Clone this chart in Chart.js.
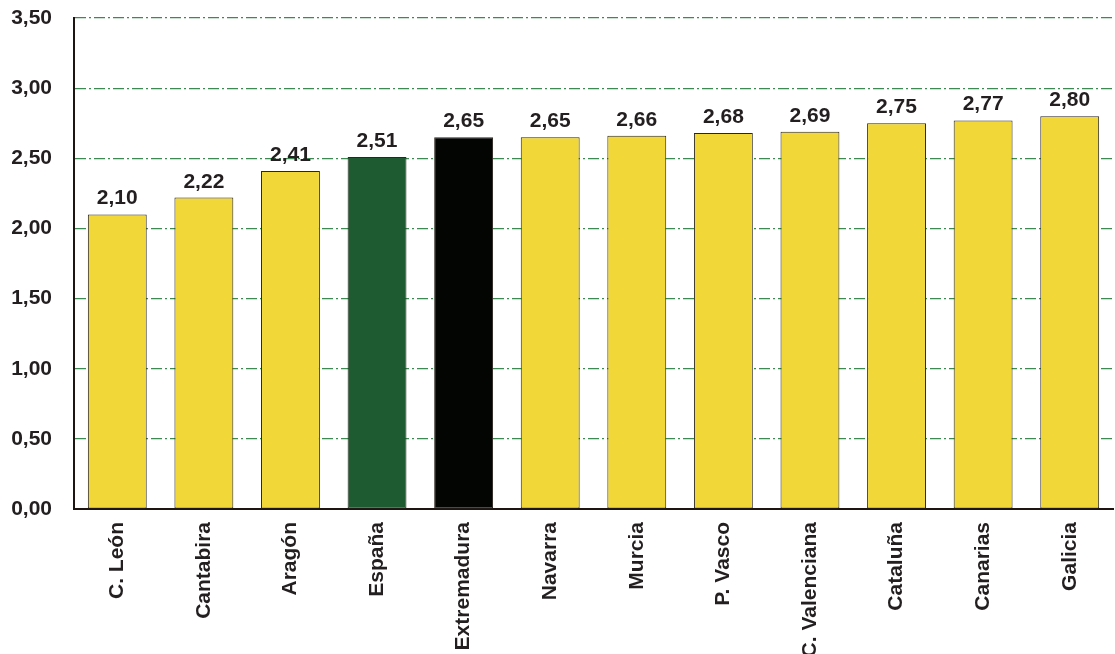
<!DOCTYPE html>
<html>
<head>
<meta charset="utf-8">
<script src="https://cdn.jsdelivr.net/npm/chart.js@4.4.1/dist/chart.umd.min.js"></script>
<style>
  html, body { margin: 0; padding: 0; background: #fff; }
  #chart { display: block; }
</style>
</head>
<body>
<canvas id="chart" width="1115" height="654"></canvas>
<script>
const regions = ["C. León", "Cantabira", "Aragón", "España", "Extremadura", "Navarra",
  "Murcia", "P. Vasco", "C. Valenciana", "Cataluña", "Canarias", "Galicia"];
const values = [2.10, 2.22, 2.41, 2.51, 2.65, 2.65, 2.66, 2.68, 2.69, 2.75, 2.77, 2.80];
const yTicks = [0, 0.5, 1, 1.5, 2, 2.5, 3, 3.5];

const YELLOW = "#f1d838";
const textColor = "#231f20";
const FONT = "'Liberation Sans', Arial, sans-serif";
const fmt = v => v.toFixed(2).replace(".", ",");

// España and Extremadura get their own colours, the rest are yellow
const barColors = regions.map(r => r === "España" ? "#1f5b31" : r === "Extremadura" ? "#030503" : YELLOW);

const valueLabels = {
  id: "valueLabels",
  afterDatasetsDraw(chart) {
    const ctx = chart.ctx;
    const meta = chart.getDatasetMeta(0);
    ctx.save();
    ctx.font = "bold 21px " + FONT;
    ctx.fillStyle = textColor;
    ctx.textAlign = "center";
    ctx.textBaseline = "alphabetic";
    meta.data.forEach((bar, i) => {
      ctx.fillText(fmt(values[i]), bar.x, bar.y - 10);
    });
    ctx.restore();
  }
};

new Chart(document.getElementById("chart"), {
  type: "bar",
  data: {
    labels: regions,
    datasets: [{
      data: values,
      backgroundColor: barColors,
      borderColor: "#2b2620",
      borderWidth: 1,
      borderSkipped: false,
      barPercentage: 0.68,
      categoryPercentage: 1
    }]
  },
  options: {
    responsive: false,
    animation: false,
    layout: { padding: { top: 18, right: 2, left: 0, bottom: 0 } },
    plugins: {
      legend: { display: false },
      tooltip: { enabled: false }
    },
    scales: {
      x: {
        grid: { display: false },
        border: { display: true, color: "#1e1512", width: 2 },
        ticks: {
          minRotation: 90,
          maxRotation: 90,
          autoSkip: false,
          padding: 5,
          color: textColor,
          font: { family: FONT, size: 21, weight: "bold" }
        },
        afterFit(scale) { scale.height = 145; }
      },
      y: {
        min: 0,
        max: 3.5,
        afterBuildTicks(scale) { scale.ticks = yTicks.map(v => ({ value: v })); },
        grid: { color: "#3c8a52", lineWidth: 1.2, drawTicks: false },
        border: { display: true, color: "#1e1512", width: 2, dash: [11, 3, 2, 3] },
        ticks: {
          padding: 22,
          color: textColor,
          font: { family: FONT, size: 21, weight: "bold" },
          callback: v => fmt(v)
        },
        afterFit(scale) {
          scale.width = 74;
          // the tick padding would otherwise push the plot top down
          scale.paddingTop = 0;
          scale.paddingBottom = 0;
        }
      }
    }
  },
  plugins: [valueLabels]
});
</script>
</body>
</html>
